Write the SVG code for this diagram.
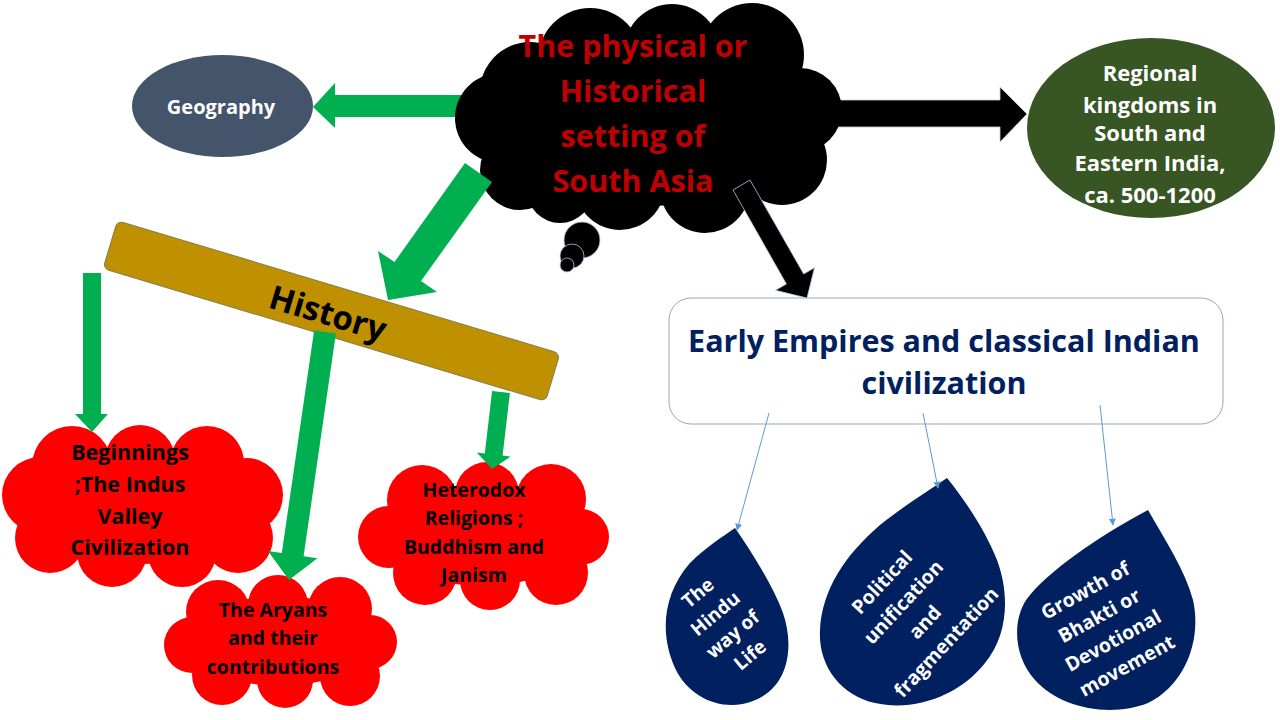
<svg xmlns="http://www.w3.org/2000/svg" width="1280" height="720" viewBox="0 0 1280 720">
<defs>
<style>
.t{font-family:"Open Sans","Liberation Sans",sans-serif;font-weight:700;text-anchor:middle}
.red{fill:#FF0000}
.blk{fill:#000}
.grn{fill:#00B050}
.drop{fill:#002060}
.wt{fill:#fff}
.conn{stroke:#5B9BD5;stroke-width:1;fill:none;marker-end:url(#ah)}
</style>
<marker id="ah" viewBox="0 0 10 10" refX="9" refY="5" markerWidth="7" markerHeight="7" orient="auto" markerUnits="userSpaceOnUse">
<path d="M0,0 L10,5 L0,10 z" fill="#5B9BD5"/>
</marker>
</defs>
<rect width="1280" height="720" fill="#fff"/>

<g id="connectors-back">
<polygon class="grn" points="470,95 335,95 335,83 313,107 335,128 335,117 470,117"/>
<polygon class="blk" points="830,100 1000,100 1000,87 1027,114 1000,142 1000,127 830,127" stroke="#c9d3e0" stroke-width="0.8"/>
</g>

<g id="setting">
<g class="blk">
<ellipse cx="648" cy="118" rx="150" ry="88"/>
<circle cx="530" cy="92" r="50"/>
<circle cx="500" cy="118" r="45"/>
<circle cx="520" cy="170" r="40"/>
<circle cx="590" cy="60" r="52"/>
<circle cx="672" cy="52" r="48"/>
<circle cx="752" cy="55" r="52"/>
<circle cx="800" cy="110" r="42"/>
<circle cx="782" cy="160" r="45"/>
<circle cx="705" cy="188" r="45"/>
<circle cx="620" cy="185" r="45"/>
<circle cx="560" cy="190" r="33"/>
</g>
<g class="blk" stroke="#b4c7e7" stroke-width="0.8">
<circle cx="582" cy="240" r="18"/>
<circle cx="572" cy="256" r="12"/>
<circle cx="567" cy="265" r="7"/>
</g>
<g class="t" font-size="30.5" fill="#C00000">
<text x="633" y="57">The physical or</text>
<text x="633" y="102">Historical</text>
<text x="633" y="147">setting of</text>
<text x="633" y="192">South Asia</text>
</g>
</g>

<g id="geography">
<ellipse cx="222.5" cy="106" rx="90.5" ry="51" fill="#44546A"/>
<text class="t wt" x="221" y="114" font-size="20">Geography</text>
</g>

<g id="regional">
<ellipse cx="1151" cy="128" rx="124" ry="90" fill="#375623"/>
<g class="t wt" font-size="22">
<text x="1150" y="81">Regional</text>
<text x="1150" y="113">kingdoms in</text>
<text x="1150" y="141">South and</text>
<text x="1150" y="171">Eastern India,</text>
<text x="1150" y="203">ca. 500-1200</text>
</g>
</g>

<g id="history">
<rect x="-231" y="-25" width="462" height="50" rx="6" transform="translate(331.5,311) rotate(16.7)" fill="#BF9000" stroke="#7f7f50" stroke-width="1"/>
<text class="t" x="0" y="12" font-size="33" fill="#000" transform="translate(328,313) rotate(16.7)">History</text>
</g>

<g id="beginnings">
<g class="red">
<ellipse cx="142" cy="506" rx="105" ry="58"/>
<circle cx="72" cy="466" r="40"/>
<circle cx="140" cy="460" r="35"/>
<circle cx="207" cy="463" r="37"/>
<circle cx="246" cy="495" r="37"/>
<circle cx="238" cy="538" r="35"/>
<circle cx="182" cy="553" r="34"/>
<circle cx="112" cy="552" r="35"/>
<circle cx="50" cy="538" r="35"/>
<circle cx="40" cy="495" r="38"/>
</g>
<g class="t" font-size="21.5" fill="#000">
<text x="130" y="460">Beginnings</text>
<text x="130" y="492">;The Indus</text>
<text x="130" y="524">Valley</text>
<text x="130" y="555">Civilization</text>
</g>
</g>

<g id="aryans">
<g class="red">
<ellipse cx="280" cy="641" rx="90" ry="45"/>
<circle cx="218" cy="612" r="32"/>
<circle cx="278" cy="605" r="30"/>
<circle cx="340" cy="609" r="32"/>
<circle cx="370" cy="642" r="27"/>
<circle cx="350" cy="676" r="30"/>
<circle cx="285" cy="680" r="28"/>
<circle cx="222" cy="675" r="30"/>
<circle cx="192" cy="645" r="28"/>
</g>
<g class="t" font-size="19.5" fill="#000">
<text x="273" y="617">The Aryans</text>
<text x="273" y="645">and their</text>
<text x="273" y="674">contributions</text>
</g>
</g>

<g id="heterodox">
<g class="red">
<ellipse cx="483" cy="536" rx="95" ry="50"/>
<circle cx="422" cy="500" r="35"/>
<circle cx="487" cy="494" r="32"/>
<circle cx="551" cy="499" r="35"/>
<circle cx="581" cy="537" r="28"/>
<circle cx="556" cy="573" r="32"/>
<circle cx="490" cy="580" r="30"/>
<circle cx="425" cy="573" r="32"/>
<circle cx="389" cy="537" r="31"/>
</g>
<g class="t" font-size="19.5" fill="#000">
<text x="474" y="497">Heterodox</text>
<text x="474" y="525">Religions ;</text>
<text x="474" y="554">Buddhism and</text>
<text x="474" y="582">Janism</text>
</g>
</g>

<g id="empires">
<rect x="669" y="298" width="554" height="126" rx="22" fill="#fff" stroke="#8EA9C1" stroke-width="1"/>
<g class="t" font-size="30.5" fill="#002060">
<text x="944" y="352">Early Empires and classical Indian</text>
<text x="944" y="394">civilization</text>
</g>
</g>

<g id="hindu">
<path class="drop" d="M735,528 C752,552 775,590 783,613 C795,648 788,688 753,701 C725,712 690,700 675,668 C660,635 662,595 690,563 C705,548 722,537 735,528 Z"/>
<g class="t wt" font-size="19" transform="translate(724,624) rotate(-40)">
<text x="0" y="-34">The</text>
<text x="0" y="-7">Hindu</text>
<text x="0" y="20">way of</text>
<text x="0" y="47">Life</text>
</g>
</g>

<g id="political">
<path class="drop" d="M947,478 C965,500 985,530 997,560 C1010,595 1008,635 985,663 C960,695 915,712 875,703 C840,695 818,665 820,630 C822,590 845,555 880,525 C905,505 930,490 947,478 Z"/>
<g class="t wt" font-size="19.5" transform="translate(914,612) rotate(-47)">
<text x="0" y="-37">Political</text>
<text x="0" y="-7.7">unification</text>
<text x="0" y="21.7">and</text>
<text x="0" y="51">fragmentation</text>
</g>
</g>

<g id="bhakti">
<path class="drop" d="M1148,510 C1165,540 1185,570 1193,600 C1202,640 1185,685 1148,703 C1110,718 1060,708 1035,680 C1012,655 1012,615 1030,595 C1055,565 1110,530 1148,510 Z"/>
<g class="t wt" font-size="19.5" transform="translate(1106,628) rotate(-29)">
<text x="0" y="-36">Growth of</text>
<text x="0" y="-7.3">Bhakti or</text>
<text x="0" y="21.3">Devotional</text>
<text x="0" y="50">movement</text>
</g>
</g>

<g id="connectors">
<polygon class="grn" points="465,163 492,182 421,281 437,292 388,300 378,251 394.5,262"/>
<polygon class="blk" points="750,180 803.7,274 814.5,267.7 807,298 775.5,290.3 786.4,284 733,190" stroke="#b4c7e7" stroke-width="0.8"/>
<polygon class="grn" points="83,273 101,273 101,414 108,414 92,432 75,414 83,414"/>
<polygon class="grn" points="314.1,330.4 335.9,333.6 303.6,556.3 317.4,558.3 289,580 268,551.1 281.8,553.1"/>
<polygon class="grn" points="492.1,391 509.9,393 502.6,455.6 510.6,456.6 492,469 476.8,452.6 484.8,453.6"/>
<line class="conn" x1="769" y1="413" x2="737" y2="530"/>
<line class="conn" x1="923" y1="413" x2="938" y2="488"/>
<line class="conn" x1="1100" y1="405" x2="1113" y2="525"/>
</g>
</svg>
